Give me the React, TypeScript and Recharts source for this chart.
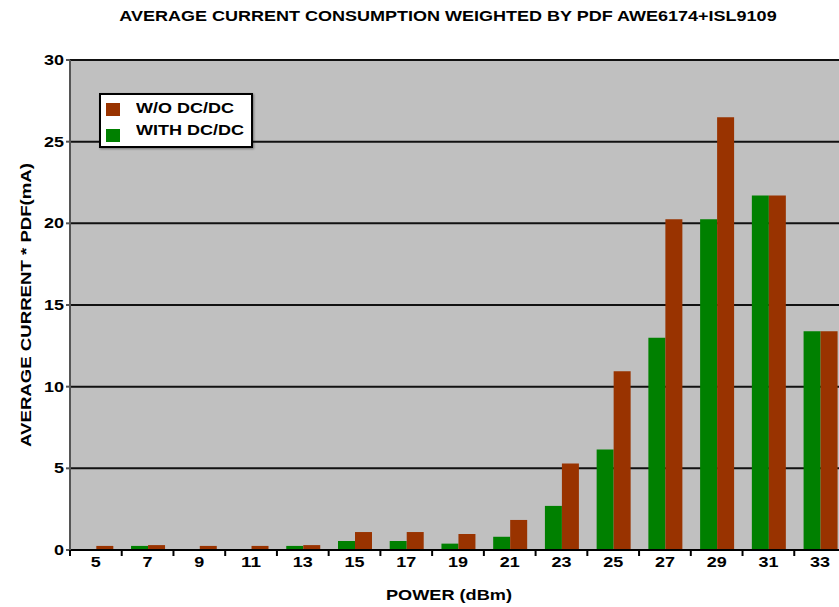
import { BarChart, Bar, XAxis, YAxis, CartesianGrid, Label } from 'recharts'

const powerDbm = ['5', '7', '9', '11', '13', '15', '17', '19', '21', '23', '25', '27', '29', '31', '33']
const withDcdc = [0, 0.25, 0, 0, 0.25, 0.55, 0.55, 0.39, 0.81, 2.7, 6.15, 13.0, 20.25, 21.7, 13.4]
const withoutDcdc = [0.25, 0.3, 0.25, 0.25, 0.3, 1.1, 1.1, 0.98, 1.84, 5.3, 10.95, 20.25, 26.5, 21.7, 13.4]
const yTicks = [0, 5, 10, 15, 20, 25, 30]

const data = powerDbm.map((p, i) => ({ p, with: withDcdc[i], without: withoutDcdc[i] }))

const FONT = 'Arial, "Liberation Sans", Helvetica, sans-serif'
const CHART_W = 860
const LEFT = 70
const RIGHT = 14
const BAND = (CHART_W - LEFT - RIGHT) / powerDbm.length
// the reference text is stretched ~1.2x sideways
const STRETCH = 1.2

function PowerTick(props: any) {
  const { x, y, payload } = props
  const left = x - BAND / 2
  const s = String(payload.value)
  return (
    <g>
      <line x1={left} x2={left} y1={y - 6} y2={y} stroke="#000" strokeWidth={2} />
      <text x={x} y={y} dy={11} textAnchor="middle" fontSize={15} fontWeight="bold" fill="#000" fontFamily={FONT}
        textLength={s.length * 10} lengthAdjust="spacingAndGlyphs">
        {s}
      </text>
    </g>
  )
}

function ValueTick(props: any) {
  const { x, y, payload } = props
  const s = String(payload.value)
  return (
    <text x={x} y={y} dy={5} textAnchor="end" fontSize={15} fontWeight="bold" fill="#000" fontFamily={FONT}
      textLength={s.length * 10} lengthAdjust="spacingAndGlyphs">
      {s}
    </text>
  )
}

function YTitle(props: any) {
  const { viewBox } = props
  const cx = 31
  const cy = viewBox.y + viewBox.height / 2
  return (
    <text x={cx} y={cy} transform={`rotate(-90 ${cx} ${cy})`} textAnchor="middle" fontSize={15} fontWeight="bold"
      fill="#000" fontFamily={FONT} textLength={284} lengthAdjust="spacingAndGlyphs">
      AVERAGE CURRENT * PDF(mA)
    </text>
  )
}

function XTitle(props: any) {
  const { viewBox } = props
  const cx = viewBox.x + viewBox.width / 2 - 9
  return (
    <text x={cx} y={600} textAnchor="middle" fontSize={15} fontWeight="bold" fill="#000" fontFamily={FONT}
      textLength={126} lengthAdjust="spacingAndGlyphs">
      POWER (dBm)
    </text>
  )
}

const stretched = { transform: `scaleX(${STRETCH})`, transformOrigin: 'left center', whiteSpace: 'nowrap' as const }

export default function App() {
  return (
    <div style={{ position: 'absolute', left: 0, top: 0, width: 839, height: 607, overflow: 'hidden', background: '#fff', fontFamily: FONT }}>
      <div style={{ position: 'absolute', left: 448, top: 7, fontSize: 15, fontWeight: 'bold', color: '#000', whiteSpace: 'nowrap', transform: `translateX(-50%) scaleX(${STRETCH})` }}>
        AVERAGE CURRENT CONSUMPTION WEIGHTED BY PDF AWE6174+ISL9109
      </div>
      <BarChart
        width={CHART_W}
        height={607}
        data={data}
        margin={{ top: 60, right: RIGHT, bottom: 27, left: 0 }}
        barCategoryGap="18%"
        barGap={0}
      >
        <CartesianGrid fill="#c0c0c0" vertical={false} stroke="#111" strokeWidth={2} />
        <XAxis
          dataKey="p"
          height={30}
          tickLine={false}
          tickSize={6}
          tickMargin={0}
          interval={0}
          tick={<PowerTick />}
          axisLine={{ stroke: '#000', strokeWidth: 2 }}
        >
          <Label content={<XTitle />} />
        </XAxis>
        <YAxis
          width={LEFT}
          domain={[0, 30]}
          ticks={yTicks}
          interval={0}
          tickSize={4}
          tickMargin={2}
          tickLine={{ stroke: '#555', strokeWidth: 2 }}
          axisLine={{ stroke: '#555', strokeWidth: 2 }}
          tick={<ValueTick />}
        >
          <Label content={<YTitle />} />
        </YAxis>
        <Bar dataKey="with" name="WITH DC/DC" fill="#008000" isAnimationActive={false} />
        <Bar dataKey="without" name="W/O DC/DC" fill="#993300" isAnimationActive={false} />
      </BarChart>
      <div
        style={{
          position: 'absolute', left: 99, top: 93, width: 150, height: 51,
          background: '#fff', border: '2px solid #000', boxShadow: '1px 1px 2px rgba(0,0,0,0.4)',
          fontSize: 15, fontWeight: 'bold', color: '#000',
        }}
      >
        <div style={{ position: 'absolute', left: 5, top: 8, width: 14, height: 13, background: '#993300' }} />
        <div style={{ position: 'absolute', left: 35, top: 4, ...stretched }}>W/O DC/DC</div>
        <div style={{ position: 'absolute', left: 5, top: 34, width: 14, height: 13, background: '#008000' }} />
        <div style={{ position: 'absolute', left: 35, top: 26, ...stretched }}>WITH DC/DC</div>
      </div>
    </div>
  )
}
